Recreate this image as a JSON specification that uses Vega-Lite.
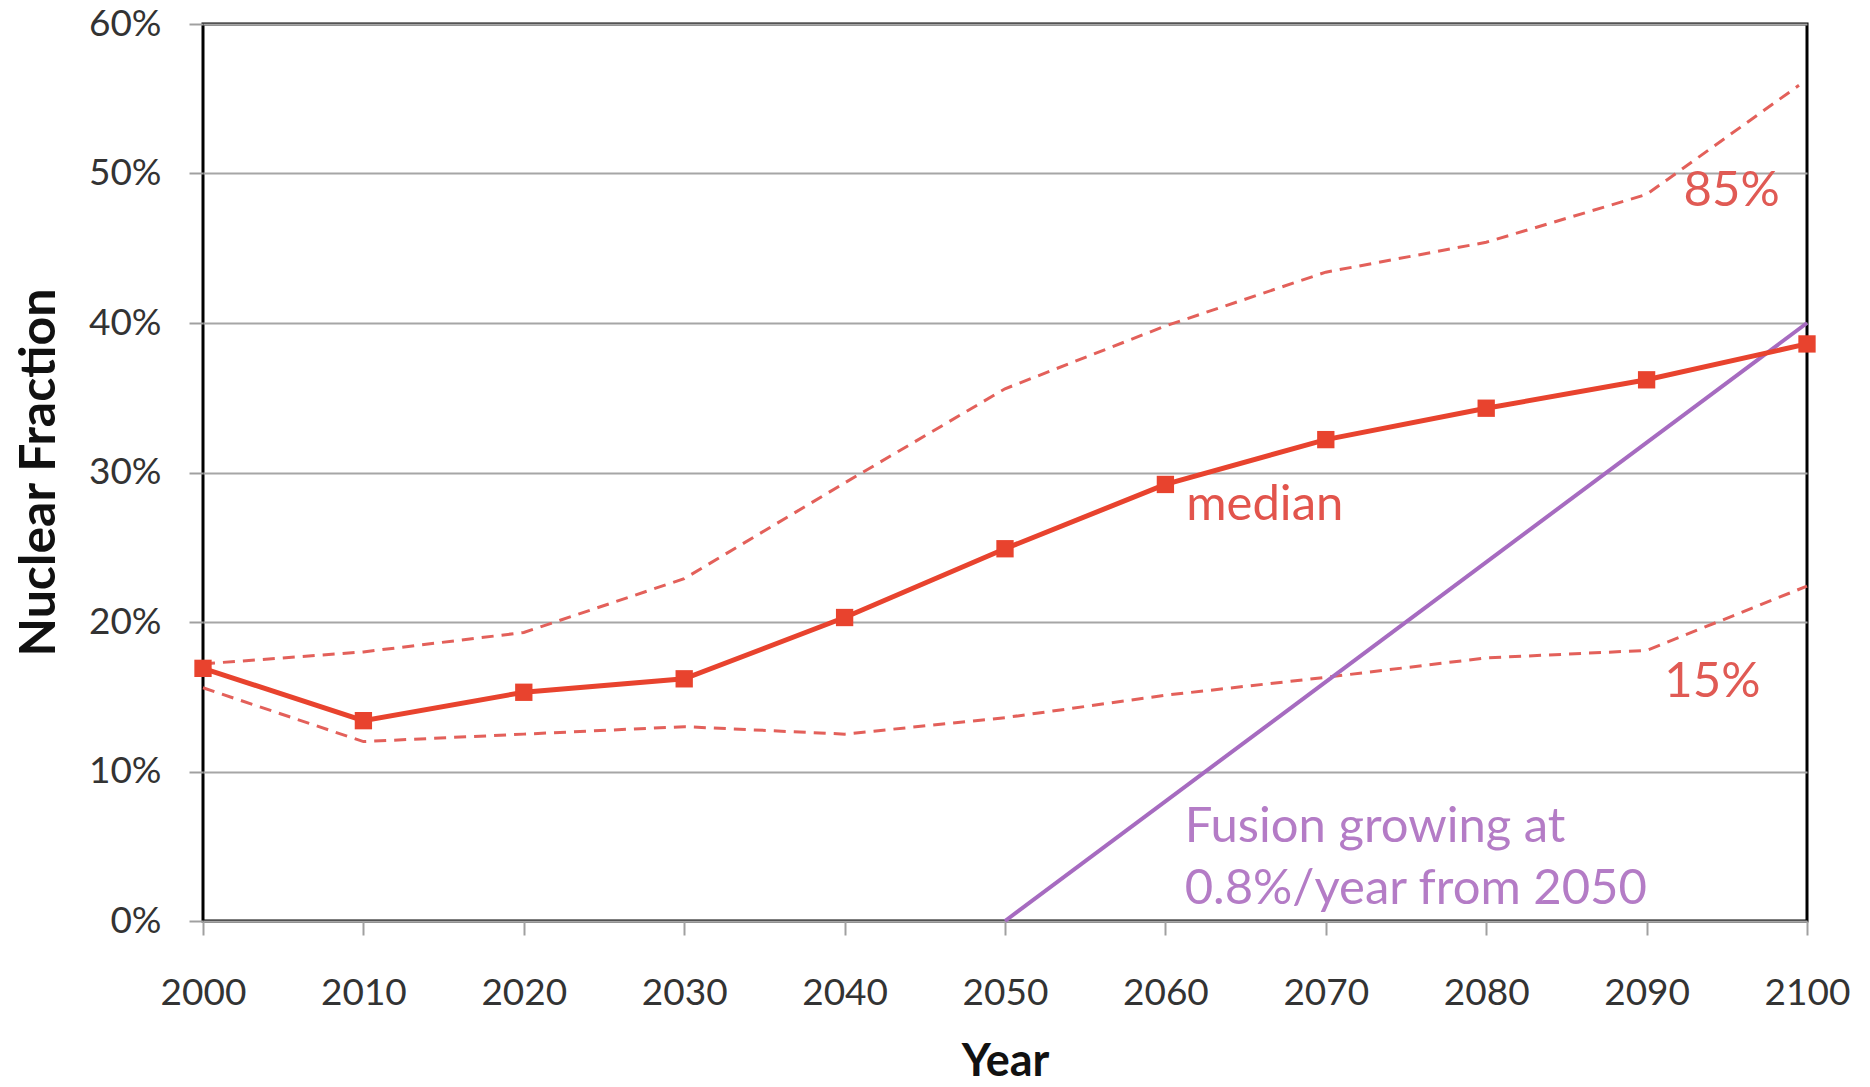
{
  "$schema": "https://vega.github.io/schema/vega-lite/v6.json",
  "width": 1604,
  "height": 897,
  "autosize": {"type": "none"},
  "padding": {"left": 203, "top": 24, "right": 63, "bottom": 166},
  "background": "white",
  "config": {
    "view": {"stroke": "black", "strokeWidth": 3},
    "font": "Lato"
  },
  "datasets": {
    "median": [
      {"year": 2000, "value": 16.9},
      {"year": 2010, "value": 13.4},
      {"year": 2020, "value": 15.3},
      {"year": 2030, "value": 16.2},
      {"year": 2040, "value": 20.3},
      {"year": 2050, "value": 24.9},
      {"year": 2060, "value": 29.2},
      {"year": 2070, "value": 32.2},
      {"year": 2080, "value": 34.3},
      {"year": 2090, "value": 36.2},
      {"year": 2100, "value": 38.6}
    ],
    "bands": [
      {"year": 2000, "series": "85%", "value": 17.2},
      {"year": 2010, "series": "85%", "value": 18.0},
      {"year": 2020, "series": "85%", "value": 19.3},
      {"year": 2030, "series": "85%", "value": 22.9},
      {"year": 2040, "series": "85%", "value": 29.3},
      {"year": 2050, "series": "85%", "value": 35.6},
      {"year": 2060, "series": "85%", "value": 39.8},
      {"year": 2070, "series": "85%", "value": 43.4},
      {"year": 2080, "series": "85%", "value": 45.4},
      {"year": 2090, "series": "85%", "value": 48.6},
      {"year": 2099.5, "series": "85%", "value": 55.9},
      {"year": 2000, "series": "15%", "value": 15.6},
      {"year": 2010, "series": "15%", "value": 12.0},
      {"year": 2020, "series": "15%", "value": 12.5},
      {"year": 2030, "series": "15%", "value": 13.0},
      {"year": 2040, "series": "15%", "value": 12.5},
      {"year": 2050, "series": "15%", "value": 13.6},
      {"year": 2060, "series": "15%", "value": 15.1},
      {"year": 2070, "series": "15%", "value": 16.3},
      {"year": 2080, "series": "15%", "value": 17.6},
      {"year": 2090, "series": "15%", "value": 18.1},
      {"year": 2100, "series": "15%", "value": 22.4}
    ],
    "fusion": [
      {"year": 2050, "value": 0},
      {"year": 2100, "value": 40}
    ],
    "medianLabel": [
      {"label": "median", "year": 2061.3, "value": 27.8}
    ],
    "bandLabels": [
      {"label": "85%", "year": 2095.3, "value": 48.8},
      {"label": "15%", "year": 2094.1, "value": 16.0}
    ],
    "note": [
      {"year": 2061.2, "value": 6.3}
    ]
  },
  "encoding": {
    "x": {
      "field": "year",
      "type": "quantitative",
      "scale": {"domain": [2000, 2100], "nice": false, "zero": false},
      "axis": {
        "values": [2000, 2010, 2020, 2030, 2040, 2050, 2060, 2070, 2080, 2090, 2100],
        "format": "d",
        "grid": false,
        "domain": false,
        "labelFlush": false,
        "labelOverlap": false,
        "tickColor": "#a0a0a0",
        "tickWidth": 2,
        "tickSize": 14,
        "labelFontSize": 37,
        "labelColor": "#333333",
        "labelPadding": 40,
        "title": "Year",
        "titleFontSize": 45,
        "titleFontWeight": "bold",
        "titleColor": "#111111",
        "titleY": 154,
        "titleBaseline": "alphabetic"
      }
    },
    "y": {
      "field": "value",
      "type": "quantitative",
      "scale": {"domain": [0, 60], "nice": false},
      "axis": {
        "values": [0, 10, 20, 30, 40, 50, 60],
        "format": ".0f",
        "labelExpr": "datum.label + '%'",
        "grid": true,
        "gridColor": "#a6a6a6",
        "gridWidth": 2,
        "domain": false,
        "tickColor": "#a0a0a0",
        "tickWidth": 2,
        "tickSize": 14,
        "labelFontSize": 37,
        "labelColor": "#333333",
        "labelPadding": 28,
        "title": "Nuclear Fraction",
        "titleFontSize": 50,
        "titleFontWeight": "bold",
        "titleColor": "#111111",
        "titleX": -164,
        "titleY": 448,
        "titleAlign": "center",
        "titleBaseline": "middle"
      }
    }
  },
  "layer": [
    {
      "data": {"name": "bands"},
      "mark": {"type": "line", "color": "#e3605a", "strokeWidth": 3, "strokeDash": [12, 8]},
      "encoding": {"detail": {"field": "series"}}
    },
    {
      "data": {"name": "fusion"},
      "mark": {"type": "line", "color": "#a66bc0", "strokeWidth": 4}
    },
    {
      "data": {"name": "median"},
      "mark": {"type": "line", "color": "#e8432e", "strokeWidth": 5}
    },
    {
      "data": {"name": "median"},
      "mark": {"type": "point", "shape": "square", "filled": true, "opacity": 1, "color": "#e8432e", "size": 300}
    },
    {
      "data": {"name": "medianLabel"},
      "mark": {"type": "text", "font": "Lato", "fontSize": 49, "baseline": "middle", "align": "left", "color": "#e2544c"},
      "encoding": {"text": {"field": "label"}}
    },
    {
      "data": {"name": "bandLabels"},
      "mark": {"type": "text", "font": "Lato", "fontSize": 49, "baseline": "middle", "align": "center", "color": "#e05a54"},
      "encoding": {"text": {"field": "label"}}
    },
    {
      "data": {"name": "note"},
      "mark": {"type": "text", "text": ["Fusion growing at", "0.8%/year from 2050"], "font": "Lato", "fontSize": 49, "lineHeight": 62, "color": "#b47cc6", "align": "left", "baseline": "middle"}
    }
  ]
}
